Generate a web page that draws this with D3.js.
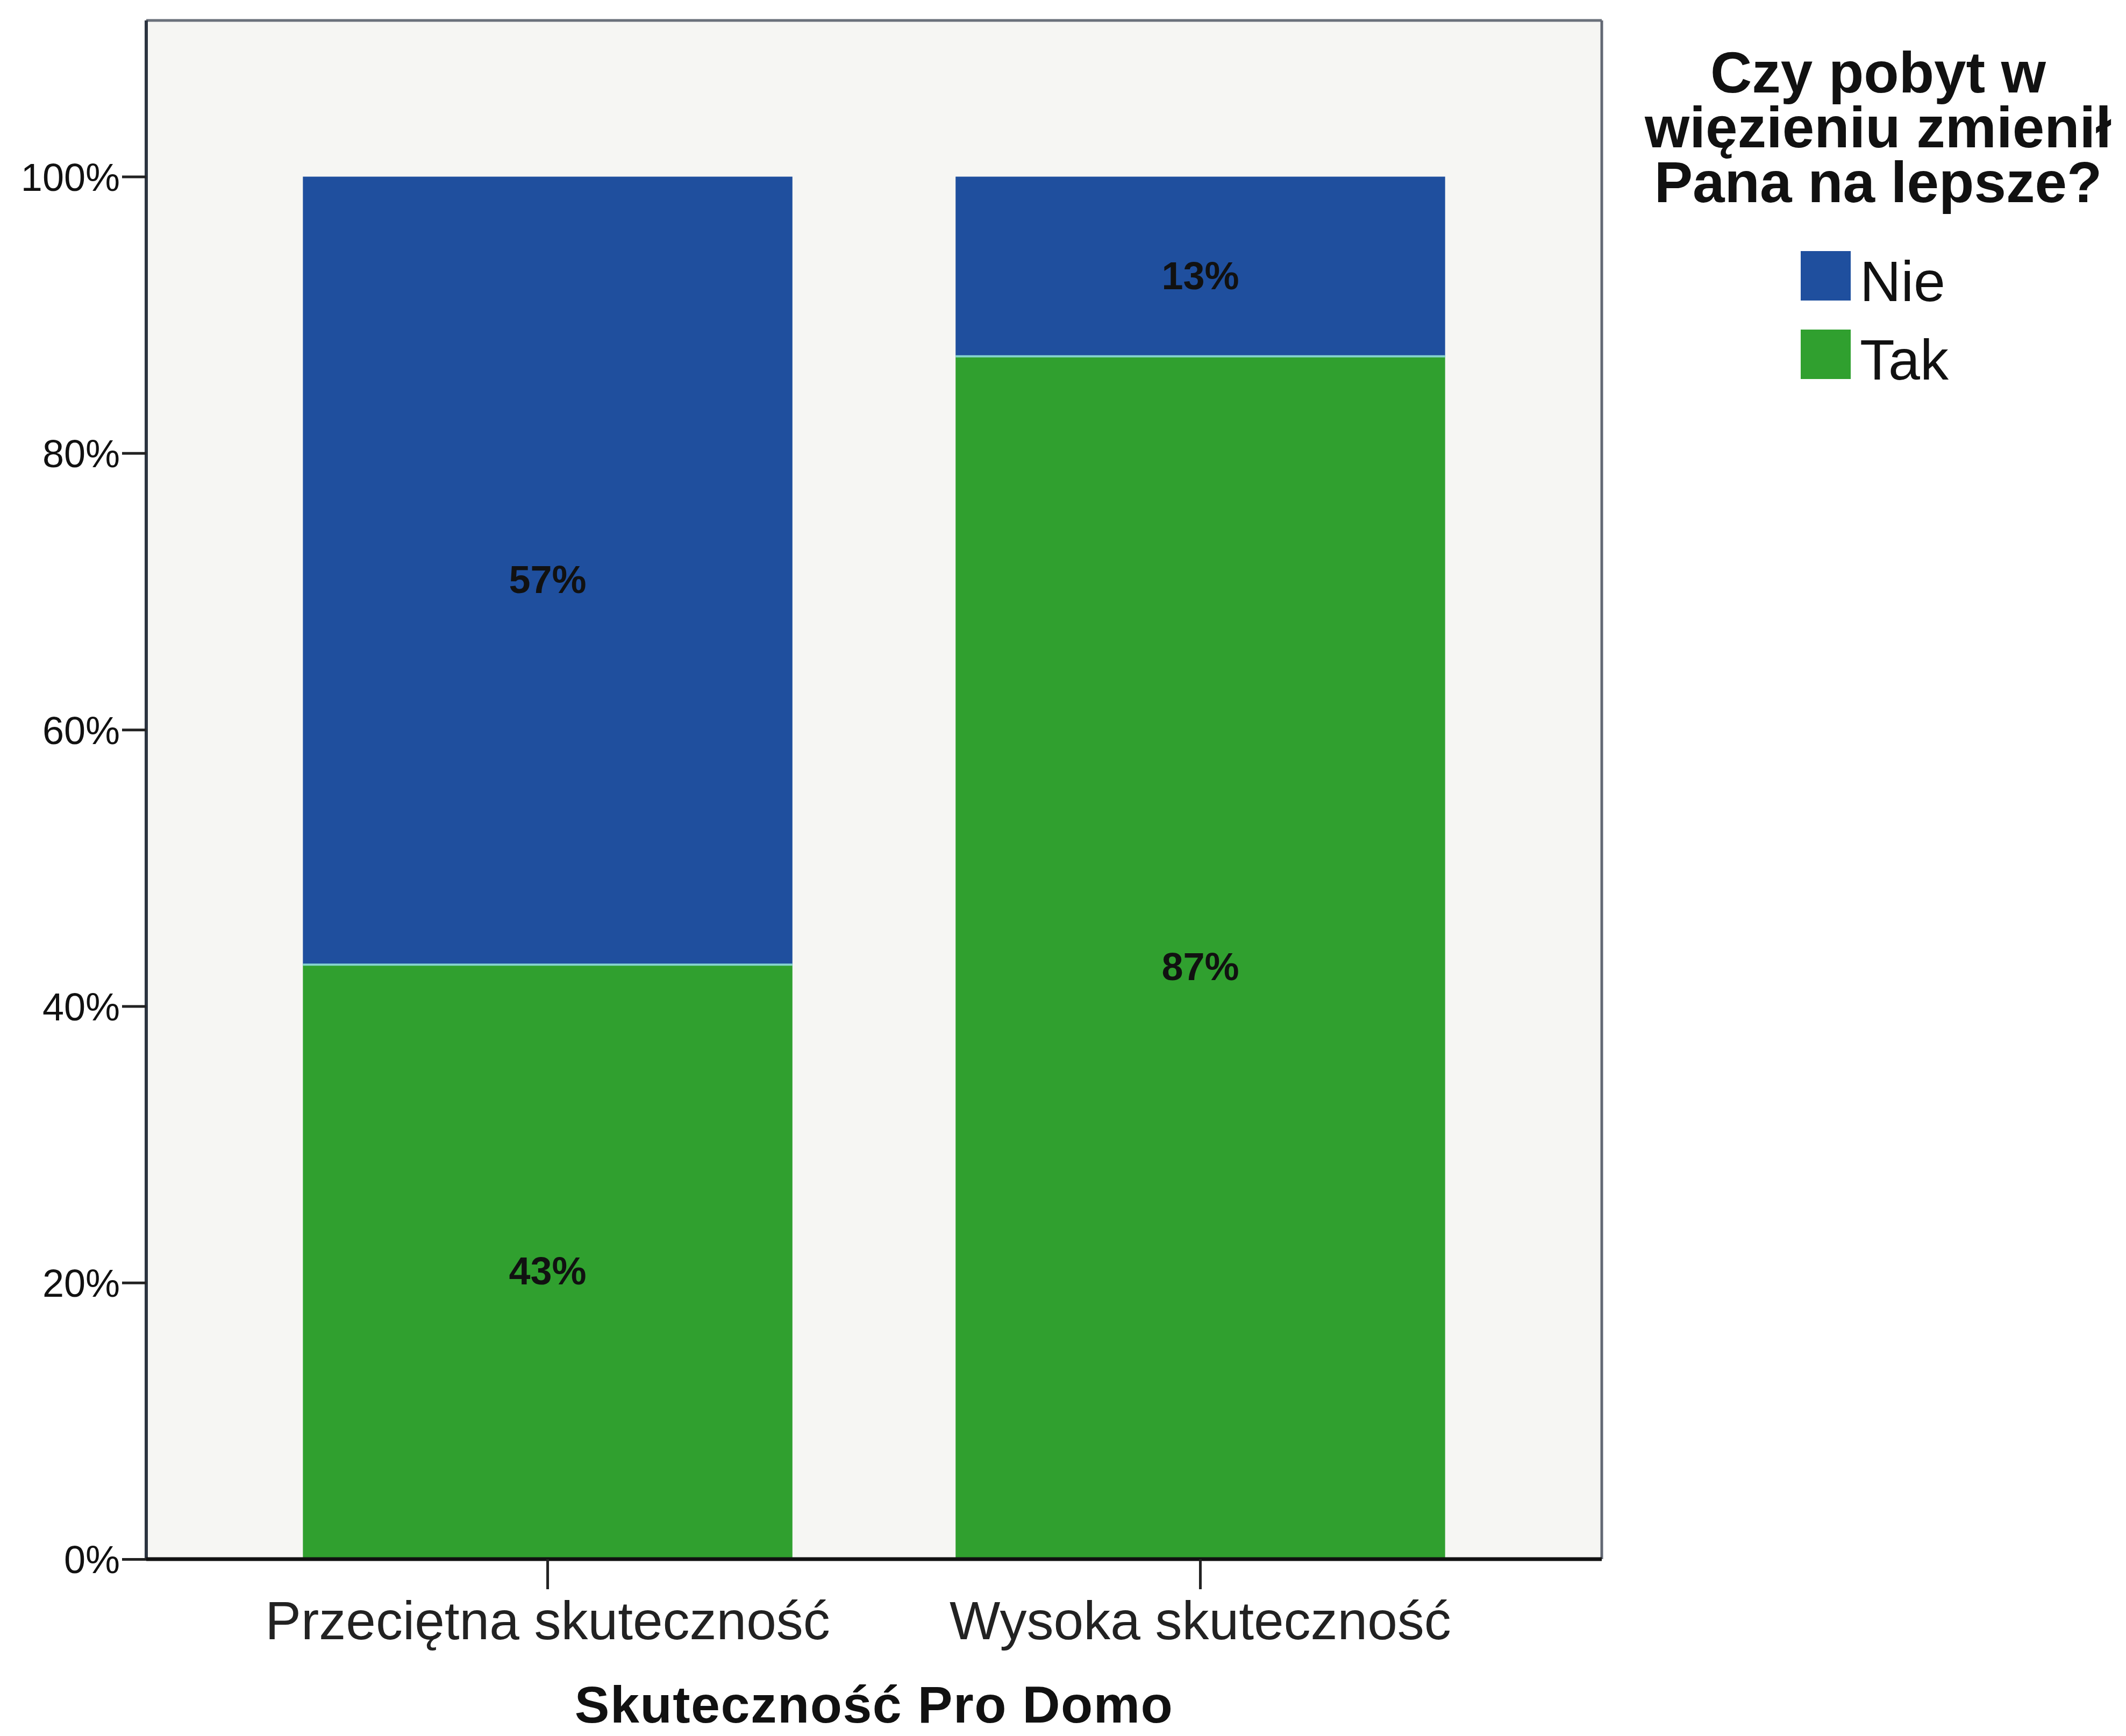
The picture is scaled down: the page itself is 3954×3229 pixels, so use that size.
<!DOCTYPE html>
<html>
<head>
<meta charset="utf-8">
<script src="https://cdn.jsdelivr.net/npm/d3@7"></script>
<style>
  html, body { margin: 0; padding: 0; background: #ffffff; }
  svg { display: block; }
  text { font-family: "Liberation Sans", Arial, sans-serif; }
</style>
</head>
<body>
<script>
// Survey answers by Pro Domo effectiveness group (percent of respondents)
const categories = ["Przeciętna skuteczność", "Wysoka skuteczność"];
const seriesNames = ["Nie", "Tak"];
const nieValues = [57, 13];
const takValues = [43, 87];
const yTicks = [0, 20, 40, 60, 80, 100];
const xTitle = "Skuteczność Pro Domo";
const legendTitle = ["Czy pobyt w", "więzieniu zmienił", "Pana na lepsze?"];

const W = 3954, H = 3229;
const colors = { Nie: "#1f4f9e", Tak: "#30a02f" };

const svg = d3.select("body").append("svg")
  .attr("width", W).attr("height", H)
  .attr("viewBox", `0 0 ${W} ${H}`);
svg.append("rect").attr("width", W).attr("height", H).attr("fill", "#ffffff");

const plot = { left: 272, right: 2979, top: 38, bottom: 2900 };

const x = d3.scaleBand()
  .domain(categories)
  .range([plot.left, plot.right])
  .paddingInner(0.25)
  .paddingOuter(0.24);

const y = d3.scaleLinear()
  .domain([0, 111.3])
  .range([plot.bottom, plot.top]);

// Plot background
svg.append("rect")
  .attr("x", plot.left).attr("y", plot.top)
  .attr("width", plot.right - plot.left)
  .attr("height", plot.bottom - plot.top)
  .attr("fill", "#f6f6f3");

// Stacked rows: Tak on the bottom, Nie on top
const rows = categories.map((c, i) => ({ cat: c, Tak: takValues[i], Nie: nieValues[i] }));
const stack = d3.stack().keys(["Tak", "Nie"]);
const layers = stack(rows);

const g = svg.append("g");
layers.forEach(layer => {
  g.selectAll(null)
    .data(layer)
    .join("rect")
    .attr("x", d => x(d.data.cat))
    .attr("width", x.bandwidth())
    .attr("y", d => y(d[1]))
    .attr("height", d => y(d[0]) - y(d[1]))
    .attr("fill", colors[layer.key]);
});

// Light seam between the two segments
g.selectAll(null)
  .data(rows)
  .join("line")
  .attr("x1", d => x(d.cat))
  .attr("x2", d => x(d.cat) + x.bandwidth())
  .attr("y1", d => y(d.Tak))
  .attr("y2", d => y(d.Tak))
  .attr("stroke", "#86d4cf")
  .attr("stroke-width", 4);

// Segment value labels
layers.forEach(layer => {
  g.selectAll(null)
    .data(layer)
    .join("text")
    .attr("x", d => x(d.data.cat) + x.bandwidth() / 2)
    .attr("y", d => (y(d[0]) + y(d[1])) / 2 + 42)
    .attr("text-anchor", "middle")
    .attr("font-size", 72)
    .attr("font-weight", "bold")
    .attr("fill", "#111")
    .text(d => `${d.data[layer.key]}%`);
});

// Frame: top and right edges in grey
svg.append("line")
  .attr("x1", plot.left).attr("x2", plot.right)
  .attr("y1", plot.top).attr("y2", plot.top)
  .attr("stroke", "#6b717b").attr("stroke-width", 5);
svg.append("line")
  .attr("x1", plot.right).attr("x2", plot.right)
  .attr("y1", plot.top).attr("y2", plot.bottom)
  .attr("stroke", "#626874").attr("stroke-width", 5);

// Y axis
const yAxis = d3.axisLeft(y)
  .tickValues(yTicks)
  .tickFormat(d => `${d}%`)
  .tickSize(45)
  .tickPadding(4);
const yg = svg.append("g")
  .attr("transform", `translate(${plot.left},0)`)
  .call(yAxis);
yg.select(".domain")
  .attr("d", `M0,${plot.top}V${plot.bottom}`)
  .attr("stroke", "#2c3440").attr("stroke-width", 6);
yg.selectAll(".tick line").attr("stroke", "#222").attr("stroke-width", 5);
yg.selectAll(".tick text")
  .attr("font-size", 72)
  .attr("fill", "#111")
  .attr("font-family", "'Liberation Sans', Arial, sans-serif")
  .attr("dy", "0.36em");

// X axis
const xAxis = d3.axisBottom(x).tickSize(56).tickPadding(22);
const xg = svg.append("g")
  .attr("transform", `translate(0,${plot.bottom})`)
  .call(xAxis);
xg.select(".domain")
  .attr("d", `M${plot.left},0H${plot.right}`)
  .attr("stroke", "#111").attr("stroke-width", 7);
xg.selectAll(".tick line").attr("stroke", "#222").attr("stroke-width", 5);
xg.selectAll(".tick text")
  .attr("font-size", 100)
  .attr("fill", "#222")
  .attr("font-family", "'Liberation Sans', Arial, sans-serif")
  .attr("dy", "0.71em");

// X axis title
svg.append("text")
  .attr("x", (plot.left + plot.right) / 2)
  .attr("y", 3204)
  .attr("text-anchor", "middle")
  .attr("font-size", 97)
  .attr("font-weight", "bold")
  .attr("letter-spacing", 1.5)
  .attr("fill", "#111")
  .text(xTitle);

// Legend
const legend = svg.append("g");
legend.selectAll(null)
  .data(legendTitle)
  .join("text")
  .attr("x", 3493)
  .attr("y", (d, i) => 172 + i * 102)
  .attr("text-anchor", "middle")
  .attr("font-size", 107)
  .attr("font-weight", "bold")
  .attr("fill", "#111")
  .text(d => d);

const legendItems = legend.selectAll(null)
  .data(seriesNames)
  .join("g")
  .attr("transform", (d, i) => `translate(3349,${467 + i * 146})`);
legendItems.append("rect")
  .attr("width", 93).attr("height", 92)
  .attr("fill", d => colors[d]);
legendItems.append("text")
  .attr("x", 110)
  .attr("y", 93)
  .attr("font-size", 106)
  .attr("fill", "#111")
  .text(d => d);
</script>
</body>
</html>
